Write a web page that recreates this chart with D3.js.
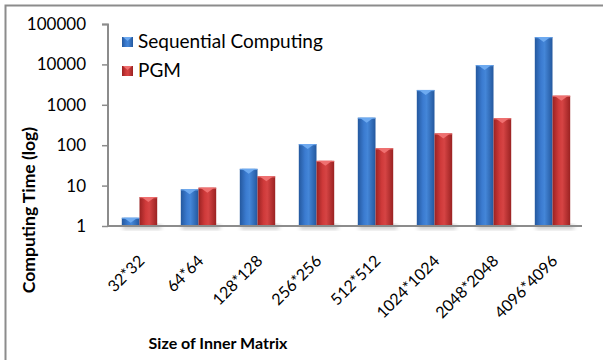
<!DOCTYPE html>
<html><head><meta charset="utf-8">
<script src="https://cdn.jsdelivr.net/npm/d3@7"></script>
<style>body{margin:0;background:#fff}svg{display:block}text{font-family:Lato,"Open Sans",sans-serif;fill:#000}</style>
</head><body>
<script>
const categories = ["32*32","64*64","128*128","256*256","512*512","1024*1024","2048*2048","4096*4096"];
const seriesNames = ["Sequential Computing","PGM"];
const sequential = [1.6, 8.1, 26, 107, 480, 2330, 9660, 47600];
const pgm = [5.2, 8.9, 17, 41, 84, 196, 464, 1680];
const yTicks = [1, 10, 100, 1000, 10000, 100000];

const W = 603, H = 360;
const svg = d3.select("body").append("svg").attr("width", W).attr("height", H);
const defs = svg.append("defs");

function grad(id, edge, mid, light) {
  const g = defs.append("linearGradient").attr("id", id).attr("x1", "0").attr("x2", "1").attr("y1", "0").attr("y2", "0");
  g.append("stop").attr("offset", "0").attr("stop-color", edge);
  g.append("stop").attr("offset", "0.35").attr("stop-color", mid);
  g.append("stop").attr("offset", "0.55").attr("stop-color", light);
  g.append("stop").attr("offset", "1").attr("stop-color", edge);
}
grad("gBlue", "#24589e", "#3b7bd0", "#4486d8");
grad("gRed", "#9a2222", "#cf3a3a", "#d64444");
const sh = defs.append("filter").attr("id", "shadow").attr("x", "-50%").attr("y", "-50%").attr("width", "200%").attr("height", "200%");
sh.append("feGaussianBlur").attr("stdDeviation", 2);

// frame
svg.append("path").attr("d", `M5.5,${H} V5.5 H${W}`).attr("fill", "none").attr("stroke", "#8c8c8c").attr("stroke-width", 2);

const x0 = d3.scaleBand().domain(categories).range([110, 582]).paddingInner(0.4).paddingOuter(0.2);
const x1 = d3.scaleBand().domain(seriesNames).range([0, x0.bandwidth()]);
const y = d3.scaleLog().domain([1, 100000]).range([226, 24]);

const data = categories.map((c, i) => ({c, vals: [sequential[i], pgm[i]]}));
const fills = ["url(#gBlue)", "url(#gRed)"];
const tops = ["#6eaaf0", "#ef7070"];

// shadows
const gShadow = svg.append("g").attr("filter", "url(#shadow)").attr("opacity", 0.35);
data.forEach(d => {
  gShadow.append("rect").attr("x", x0(d.c) + 1).attr("y", y(1) - 1)
    .attr("width", x0.bandwidth() + 3).attr("height", 4).attr("fill", "#555");
});

const groups = svg.append("g").selectAll("g").data(data).join("g")
  .attr("transform", d => `translate(${x0(d.c)},0)`);
groups.each(function(d) {
  const g = d3.select(this);
  d.vals.forEach((v, k) => {
    const bx = x1(seriesNames[k]), bw = x1.bandwidth();
    const yt = y(v), yb = y(1);
    g.append("rect").attr("x", bx).attr("y", yt).attr("width", bw).attr("height", yb - yt).attr("fill", fills[k]);
    const th = Math.min(5, yb - yt);
    g.append("path").attr("d", `M${bx + 2},${yt} L${bx + bw - 2},${yt} L${bx + bw / 2},${yt + th} Z`)
      .attr("fill", tops[k]);
    g.append("rect").attr("x", bx).attr("y", yt).attr("width", bw).attr("height", 1.2).attr("fill", tops[k]).attr("opacity", 0.8);
  });
});

// y axis
const yAxis = d3.axisLeft(y).tickValues(yTicks).tickFormat(d3.format("d")).tickSize(6).tickPadding(16);
const ya = svg.append("g").attr("transform", "translate(108,0)").call(yAxis);
ya.select(".domain").attr("stroke", "#8c8c8c").attr("stroke-width", 2).attr("d", "M-6,24.5H0V226");
ya.selectAll(".tick line").attr("stroke", "#8c8c8c").attr("stroke-width", 1.5);
ya.selectAll(".tick text").attr("font-size", 17).attr("font-family", "Lato,sans-serif").attr("fill", "#000");

// x axis line
svg.append("line").attr("x1", 108).attr("x2", 582).attr("y1", 226).attr("y2", 226).attr("stroke", "#8c8c8c").attr("stroke-width", 2);

// x labels
svg.append("g").selectAll("text").data(categories).join("text")
  .attr("text-anchor", "end").attr("font-size", 16)
  .attr("transform", d => `translate(${x0(d) + x0.bandwidth() / 2 + 6},${262}) rotate(-45)`)
  .text(d => d);

// axis titles
svg.append("text").attr("x", 218).attr("y", 349).attr("text-anchor", "middle")
  .attr("font-weight", "bold").attr("font-size", 16).text("Size of Inner Matrix");
svg.append("text").attr("transform", "translate(35,210) rotate(-90)").attr("text-anchor", "middle")
  .attr("font-weight", "bold").attr("font-size", 17.5).text("Computing Time (log)");

// legend
const leg = svg.append("g");
seriesNames.forEach((s, k) => {
  const ly = 37 + k * 29;
  leg.append("rect").attr("x", 122).attr("y", ly).attr("width", 11).attr("height", 10).attr("fill", fills[k]);
  leg.append("path").attr("d", `M123,${ly} L132,${ly} L127.5,${ly + 4} Z`).attr("fill", tops[k]);
  leg.append("text").attr("x", 138).attr("y", ly + 11).attr("font-size", 19).text(s);
});
</script>
</body></html>
